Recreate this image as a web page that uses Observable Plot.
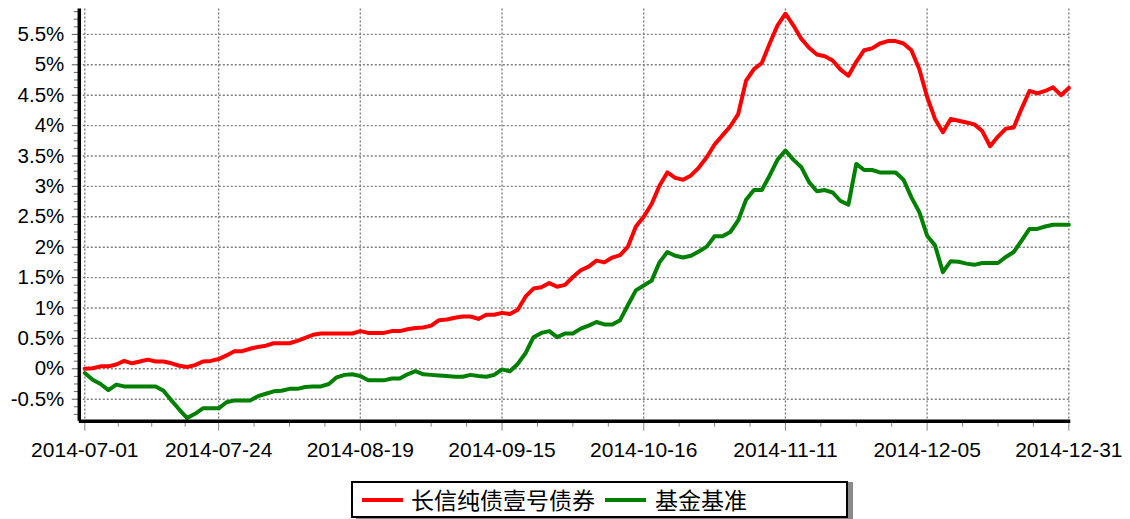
<!DOCTYPE html>
<html><head><meta charset="utf-8">
<script src="https://cdn.jsdelivr.net/npm/d3@7"></script>
<script src="https://cdn.jsdelivr.net/npm/@observablehq/plot@0.6"></script>
<style>
html,body{margin:0;padding:0;background:#fff;}
#wrap{position:relative;width:1130px;height:519px;font-family:"Liberation Sans",Arial,sans-serif;}
#legend{position:absolute;left:351px;top:481px;width:493px;height:33px;border:2px solid #000;background:#fff;box-shadow:5px 1px 0 #8a8a8a;}
#legend .sw{position:absolute;top:15px;height:4px;width:41px;}
#legend .lb{position:absolute;top:0;line-height:33px;font-family:"Noto Sans CJK SC",sans-serif;font-size:23px;color:#000;white-space:nowrap;}
</style></head><body><div id="wrap"><div id="chart"></div><div id="legend"></div></div>
<script>
// Series names
const seriesNames = ["长信纯债壹号债券", "基金基准"];
const seriesColors = ["#ff0000", "#008000"];
// x-axis tick labels and their trading-day positions
const tickLabels = ["2014-07-01","2014-07-24","2014-08-19","2014-09-15","2014-10-16","2014-11-11","2014-12-05","2014-12-31"];
const tickDays = [0,17,35,53,71,89,107,125];
// y-axis ticks (%)
const yTicks = [-0.5,0,0.5,1,1.5,2,2.5,3,3.5,4,4.5,5,5.5];
// cumulative return, %, one value per trading day
const fund = [0.00,0.01,0.04,0.04,0.07,0.13,0.09,0.12,0.15,0.12,0.12,0.09,0.05,0.03,0.06,0.12,0.13,0.16,0.22,0.29,
0.29,0.33,0.36,0.38,0.42,0.42,0.42,0.46,0.51,0.56,0.58,0.58,0.58,0.58,0.58,0.62,0.59,0.59,0.59,0.62,
0.62,0.65,0.67,0.68,0.71,0.80,0.81,0.84,0.86,0.86,0.82,0.89,0.89,0.92,0.90,0.97,1.19,1.32,1.34,1.41,
1.35,1.38,1.51,1.62,1.68,1.78,1.75,1.83,1.87,2.01,2.34,2.50,2.71,3.01,3.23,3.14,3.11,3.18,3.31,3.48,
3.69,3.84,3.99,4.19,4.74,4.93,5.03,5.35,5.65,5.84,5.65,5.43,5.28,5.17,5.14,5.07,4.92,4.82,5.05,5.24,
5.27,5.35,5.39,5.39,5.35,5.24,4.93,4.47,4.11,3.89,4.11,4.08,4.05,4.02,3.91,3.66,3.82,3.95,3.97,4.28,
4.57,4.53,4.57,4.63,4.50,4.62];
const bench = [-0.07,-0.18,-0.25,-0.35,-0.26,-0.29,-0.29,-0.29,-0.29,-0.29,-0.36,-0.52,-0.67,-0.81,-0.74,-0.65,-0.65,-0.65,-0.55,-0.52,
-0.52,-0.52,-0.45,-0.41,-0.37,-0.36,-0.33,-0.33,-0.30,-0.29,-0.29,-0.25,-0.14,-0.10,-0.09,-0.12,-0.19,-0.19,-0.19,-0.16,
-0.16,-0.09,-0.04,-0.09,-0.10,-0.11,-0.12,-0.13,-0.13,-0.10,-0.12,-0.13,-0.10,-0.01,-0.04,0.08,0.26,0.52,0.59,0.62,
0.52,0.58,0.58,0.66,0.71,0.77,0.73,0.73,0.80,1.05,1.29,1.37,1.45,1.75,1.92,1.86,1.83,1.86,1.93,2.01,
2.18,2.18,2.25,2.44,2.78,2.94,2.94,3.18,3.44,3.59,3.44,3.32,3.07,2.92,2.94,2.90,2.76,2.70,3.37,3.27,
3.27,3.23,3.23,3.23,3.11,2.82,2.58,2.19,2.03,1.59,1.77,1.76,1.73,1.71,1.74,1.74,1.74,1.84,1.92,2.11,
2.30,2.30,2.34,2.37,2.37,2.37];

const rows = fund.map((v, i) => ({day: i, fund: v, bench: bench[i]}));
const xDomain = [-0.7, 125.25];
const yDomain = [-0.862, 5.918];
// minor ticks at quarters
const minorX = [];
for (let k = 0; k < tickDays.length - 1; k++) {
  const a = tickDays[k], b = tickDays[k+1];
  for (let q = 1; q < 4; q++) minorX.push(a + (b - a) * q / 4);
}
const minorY = [];
for (let v = -0.875; v <= 5.9; v += 0.125) {
  if (Math.abs(v / 0.5 - Math.round(v / 0.5)) > 1e-6 && v >= yDomain[0]) minorY.push(v);
}
const grid = {stroke: "#808080", strokeOpacity: 1, strokeDasharray: "2,2", strokeWidth: 1.4};
const chart = Plot.plot({
  width: 1130, height: 470,
  marginLeft: 78.8, marginRight: 59.7, marginTop: 8.5, marginBottom: 49.3,
  style: {fontFamily: '"Liberation Sans", Arial, sans-serif', fontSize: "20px", color: "#000", background: "#fff"},
  x: {domain: xDomain, label: null},
  y: {domain: yDomain, label: null},
  marks: [
    Plot.gridY(yTicks, grid),
    Plot.gridX(tickDays, grid),
    Plot.axisY(minorY, {tickSize: 5, tickFormat: () => "", stroke: "#666", label: null}),
    Plot.axisY(yTicks, {tickSize: 7, tickPadding: 8, stroke: "#555", fontSize: 20.5, tickFormat: d => `${+d.toFixed(1)}%`, label: null}),
    Plot.axisX(minorX, {tickSize: 6, tickFormat: () => "", stroke: "#888", label: null}),
    Plot.axisX(tickDays, {tickSize: 10, tickPadding: 11, stroke: "#888", fontSize: 21, tickFormat: d => tickLabels[tickDays.indexOf(d)], label: null}),
    Plot.line(rows, {x: "day", y: "fund", stroke: seriesColors[0], strokeWidth: 4, strokeLinejoin: "round"}),
    Plot.line(rows, {x: "day", y: "bench", stroke: seriesColors[1], strokeWidth: 4, strokeLinejoin: "round"}),
    Plot.ruleX([xDomain[0]], {stroke: "#000", strokeWidth: 3.5}),
    Plot.ruleY([yDomain[0]], {stroke: "#000", strokeWidth: 3.5})
  ]
});
document.getElementById("chart").appendChild(chart);
// legend
const lg = document.getElementById("legend");
const pos = [{sw: 9, lb: 58}, {sw: 252, lb: 302}];
seriesNames.forEach((n, i) => {
  const s = document.createElement("div"); s.className = "sw";
  s.style.left = pos[i].sw + "px"; s.style.background = seriesColors[i];
  const t = document.createElement("div"); t.className = "lb";
  t.style.left = pos[i].lb + "px"; t.textContent = n;
  lg.appendChild(s); lg.appendChild(t);
});
</script></body></html>
